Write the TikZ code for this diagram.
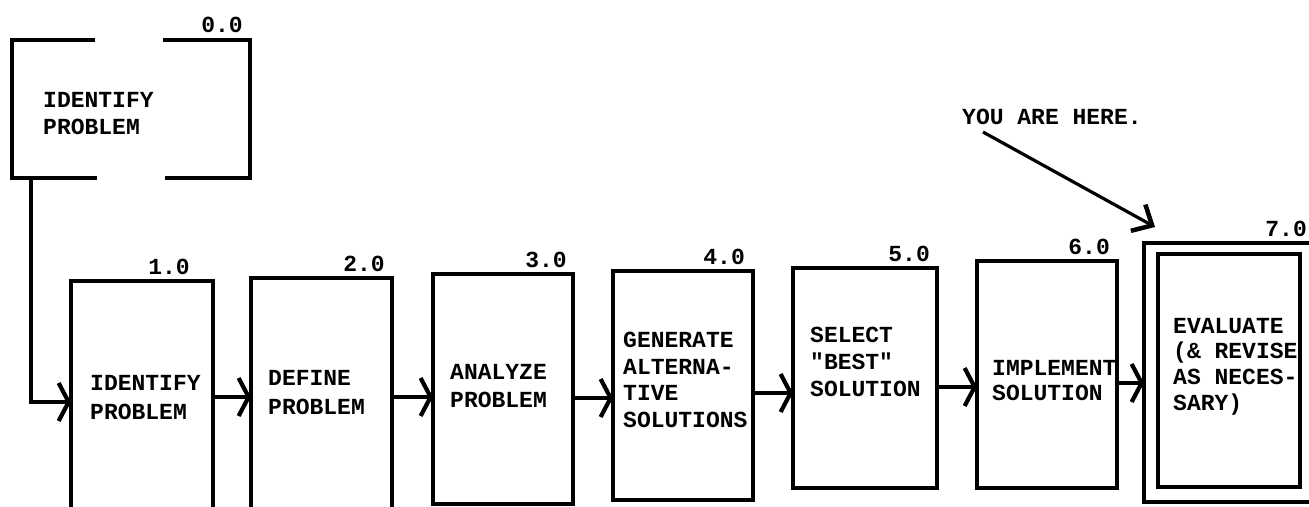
\documentclass[tikz,border=0pt]{standalone}
\usepackage{fontspec}
\newfontfamily\typew{Liberation Mono}
\usetikzlibrary{arrows.meta,calc}
\begin{document}
\begin{tikzpicture}[x=1pt,y=-1pt,
  pbox/.style={draw, line width=3.2pt, rectangle, anchor=north west, inner sep=0pt, outer sep=0pt},
  boxline/.style={line width=3.2pt, line join=miter},
  txt/.style={anchor=west, align=left, inner sep=0pt, font=\typew\bfseries\fontsize{23}{27}\selectfont},
  num/.style={anchor=south east, inner sep=0pt, font=\typew\bfseries\fontsize{23}{27}\selectfont},
  conn/.style={line width=3.2pt, -{Straight Barb[length=10pt,width=38pt,line width=4.2pt]}},
  herearrow/.style={line width=3.2pt, -{Straight Barb[length=16pt,width=30pt,line width=4.5pt]}},
]
\clip (0,0) rectangle (1309,506);
\fill[white] (0,0) rectangle (1309,506);

% boxes
\node[pbox, draw=none, minimum width=238pt, minimum height=138pt] (b0) at (12,40) {};
\node[pbox, minimum width=142pt, minimum height=260pt] (b1) at (71,281) {};
\node[pbox, minimum width=141pt, minimum height=260pt] (b2) at (251,278) {};
\node[pbox, minimum width=140pt, minimum height=230pt] (b3) at (433,274) {};
\node[pbox, minimum width=140pt, minimum height=229pt] (b4) at (613,271) {};
\node[pbox, minimum width=144pt, minimum height=220pt] (b5) at (793,268) {};
\node[pbox, minimum width=140pt, minimum height=227pt] (b6) at (977,261) {};
\node[pbox, minimum width=190pt, minimum height=259pt] (b7o) at (1144,243) {};
\node[pbox, minimum width=142pt, minimum height=233pt] (b7) at (1158,254) {};

% box 0.0 with gaps in top and bottom edges
\draw[boxline] ($(b0.north west)+(83,0)$) -- (b0.north west) -- (b0.south west) -- ($(b0.south west)+(85,0)$);
\draw[boxline] ($(b0.north west)+(151,0)$) -- (b0.north east) -- (b0.south east) -- ($(b0.south west)+(153,0)$);

% numbers
\node[num] (l0) at ($(b0.north east)+(-7,-7)$) {0.0};
\node[num] (l1) at ($(b1.north east)+(-23,-6)$) {1.0};
\node[num] (l2) at ($(b2.north east)+(-7,-6)$) {2.0};
\node[num] (l3) at ($(b3.north east)+(-6,-6)$) {3.0};
\node[num] (l4) at ($(b4.north east)+(-8,-6)$) {4.0};
\node[num] (l5) at ($(b5.north east)+(-7,-6)$) {5.0};
\node[num] (l6) at ($(b6.north east)+(-7,-6)$) {6.0};
\node[num] (l7) at ($(b7o.north west)+(163,-6)$) {7.0};

% texts
\node[txt] (t0) at (43,114) {IDENTIFY\\PROBLEM};
\node[txt, font=\typew\bfseries\fontsize{23}{29}\selectfont] (t1) at (90,397.5) {IDENTIFY\\PROBLEM};
\node[txt, font=\typew\bfseries\fontsize{23}{29}\selectfont] (t2) at (268,392.5) {DEFINE\\PROBLEM};
\node[txt, font=\typew\bfseries\fontsize{23}{28}\selectfont] (t3) at (450,386) {ANALYZE\\PROBLEM};
\node[txt, font=\typew\bfseries\fontsize{23}{26.7}\selectfont] (t4) at (623,380) {GENERATE\\ALTERNA-\\TIVE\\SOLUTIONS};
\node[txt] (t5) at (810,362) {SELECT\\"BEST"\\SOLUTION};
\node[txt, font=\typew\bfseries\fontsize{23}{25}\selectfont] (t6) at (992,380.5) {IMPLEMENT\\SOLUTION};
\node[txt, font=\typew\bfseries\fontsize{23}{25.7}\selectfont] (t7) at (1173,366.5) {EVALUATE\\(\& REVISE\\AS NECES-\\SARY)};
\node[txt] (you) at (962,117) {YOU ARE HERE.};

% connector heights
\coordinate (y01) at (0,402);
\coordinate (y12) at (0,397);
\coordinate (y23) at (0,397);
\coordinate (y34) at (0,398);
\coordinate (y45) at (0,393);
\coordinate (y56) at (0,387);
\coordinate (y67) at (0,383);

% connectors
\draw[conn] ($(b0.south west)+(19,0)$) |- (b1.west |- y01);
\draw[conn] (b1.east |- y12) -- (b2.west |- y12);
\draw[conn] (b2.east |- y23) -- (b3.west |- y23);
\draw[conn] (b3.east |- y34) -- (b4.west |- y34);
\draw[conn] (b4.east |- y45) -- (b5.west |- y45);
\draw[conn] (b5.east |- y56) -- (b6.west |- y56);
\draw[conn] (b6.east |- y67) -- (b7o.west |- y67);

% you are here pointer
\coordinate (hereEnd) at ($(b7o.north west)+(11,-16)$);
\draw[herearrow] ([xshift=21pt,yshift=-7pt]you.south west) -- (hereEnd);
\end{tikzpicture}
\end{document}
